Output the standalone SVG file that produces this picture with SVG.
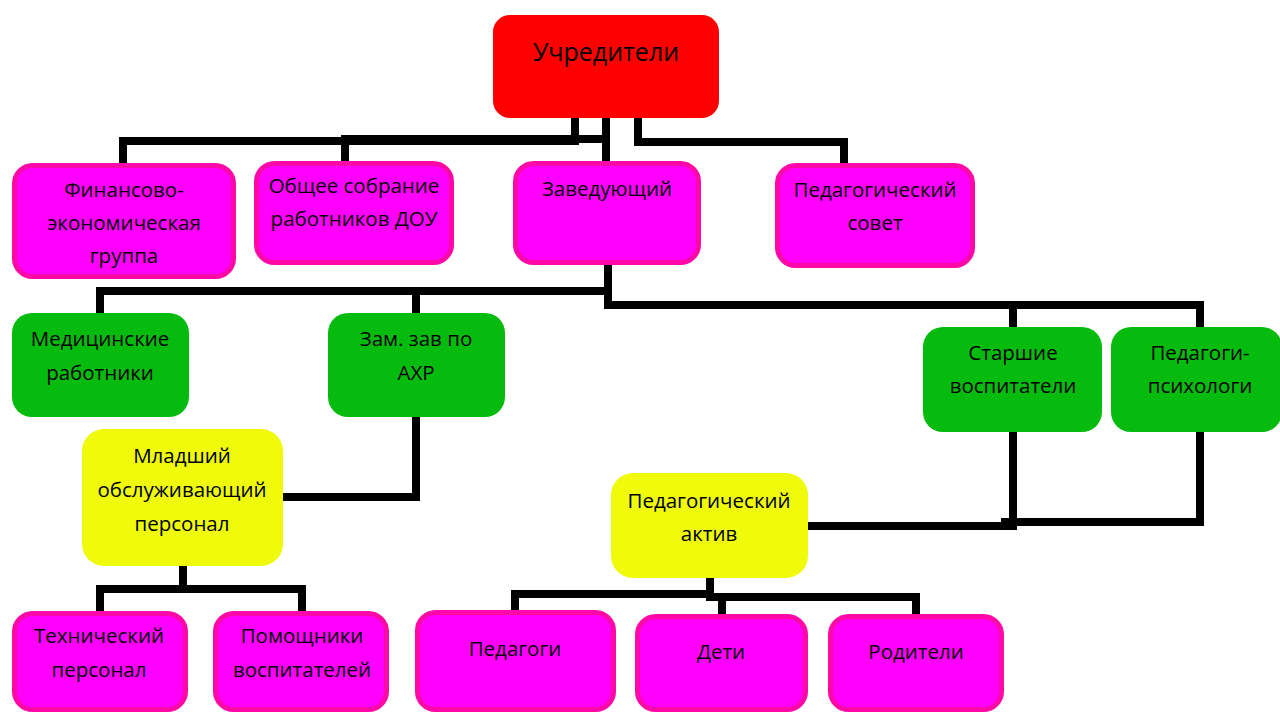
<svg xmlns="http://www.w3.org/2000/svg" width="1280" height="713" viewBox="0 0 1280 713">
<style>
.mag{fill:#FF00FF;stroke:#FF08A8;stroke-width:5}
.grn{fill:#05BB0D}
.yel{fill:#EFFB0B}
.red{fill:#FF0000}
text{font-family:"Open Sans","Noto Sans",sans-serif;font-size:20.5px;fill:#000;text-anchor:middle}
.big{font-size:25px}
#connectors path{fill:none;stroke:#000;stroke-width:8;stroke-linejoin:miter}
</style>
<rect width="1280" height="713" fill="#FFFFFF"/>
<g id="connectors">
<path d="M575,116 V141 H123 V164"/>
<path d="M606,116 V139 H345 V162"/>
<path d="M606,116 V162"/>
<path d="M638,116 V142 H844 V164"/>
<path d="M608,264 V291 H100 V314"/>
<path d="M416,291 V314"/>
<path d="M608,264 V305 H1013 V328"/>
<path d="M1013,305 H1200 V328"/>
<path d="M416,416 V497 H282"/>
<path d="M1013,431 V526 H807"/>
<path d="M1200,430 V522 H1001"/>
<path d="M183,565 V589 H100 V612"/>
<path d="M183,589 H302 V612"/>
<path d="M710,577 V594 H515 V611"/>
<path d="M710,594 V597 H916 V615"/>
<path d="M722,597 V615"/>
</g>
<g id="n-uchrediteli"><rect class="red" x="493" y="15" width="226" height="103" rx="17"/><text class="big" x="606" y="61">Учредители</text></g>
<g id="n-fin"><rect class="mag" x="14.5" y="165.5" width="219" height="111" rx="18"/><text x="124" y="197">Финансово-</text><text x="124" y="230">экономическая</text><text x="124" y="263">группа</text></g>
<g id="n-obshchee"><rect class="mag" x="256.5" y="163.5" width="195" height="99" rx="18"/><text x="354" y="193">Общее собрание</text><text x="354" y="226">работников ДОУ</text></g>
<g id="n-zaved"><rect class="mag" x="515.5" y="163.5" width="183" height="99" rx="18"/><text x="607" y="196">Заведующий</text></g>
<g id="n-pedsovet"><rect class="mag" x="777.5" y="165.5" width="195" height="100" rx="18"/><text x="875" y="197">Педагогический</text><text x="875" y="230">совет</text></g>
<g id="n-med"><rect class="grn" x="12" y="313" width="177" height="104" rx="20"/><text x="100" y="346">Медицинские</text><text x="100" y="380">работники</text></g>
<g id="n-zam"><rect class="grn" x="328" y="313" width="177" height="104" rx="20"/><text x="416" y="346">Зам. зав по</text><text x="416" y="380">АХР</text></g>
<g id="n-starshie"><rect class="grn" x="923" y="327" width="179" height="105" rx="20"/><text x="1013" y="360">Старшие</text><text x="1013" y="393">воспитатели</text></g>
<g id="n-psych"><rect class="grn" x="1111" y="327" width="171" height="105" rx="20"/><text x="1200" y="360">Педагоги-</text><text x="1200" y="393">психологи</text></g>
<g id="n-mladshiy"><rect class="yel" x="82" y="429" width="201" height="137" rx="22"/><text x="182" y="463">Младший</text><text x="182" y="497">обслуживающий</text><text x="182" y="531">персонал</text></g>
<g id="n-aktiv"><rect class="yel" x="611" y="473" width="197" height="105" rx="22"/><text x="709" y="508">Педагогический</text><text x="709" y="541">актив</text></g>
<g id="n-tech"><rect class="mag" x="14.5" y="613.5" width="171" height="96" rx="18"/><text x="99" y="643">Технический</text><text x="99" y="677">персонал</text></g>
<g id="n-pomosh"><rect class="mag" x="215.5" y="613.5" width="171" height="96" rx="18"/><text x="302" y="643">Помощники</text><text x="302" y="677">воспитателей</text></g>
<g id="n-pedagogi"><rect class="mag" x="417.5" y="612.5" width="196" height="97" rx="18"/><text x="515" y="656">Педагоги</text></g>
<g id="n-deti"><rect class="mag" x="637.5" y="616.5" width="168" height="93" rx="18"/><text x="721" y="659">Дети</text></g>
<g id="n-roditeli"><rect class="mag" x="830.5" y="616.5" width="171" height="93" rx="18"/><text x="916" y="659">Родители</text></g>
</svg>
